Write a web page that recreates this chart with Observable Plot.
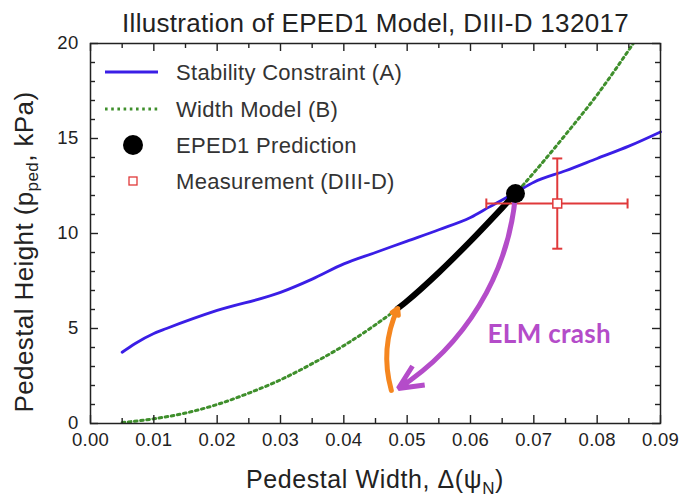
<!DOCTYPE html>
<html>
<head>
<meta charset="utf-8">
<script src="https://cdn.jsdelivr.net/npm/d3@7"></script>
<script src="https://cdn.jsdelivr.net/npm/@observablehq/plot@0.6"></script>
<style>
  body { margin: 0; background: #fff; }
  #chart { position: relative; width: 684px; height: 497px; font-family: "Liberation Sans", Arial, Helvetica, sans-serif; }
  #chart svg { display: block; }
  #legend { position: absolute; left: 0; top: 0; pointer-events: none; }
</style>
</head>
<body>
<div id="chart"></div>
<script>
// Stability constraint (A): critical pedestal height vs. pedestal width
const stabilityWidth  = [0.005, 0.007, 0.010, 0.012, 0.020, 0.030, 0.035, 0.040, 0.045, 0.050, 0.055, 0.060, 0.063, 0.0671, 0.070, 0.075, 0.080, 0.085, 0.090];
const stabilityHeight = [3.75, 4.2, 4.74, 5.0, 5.95, 6.9, 7.6, 8.4, 9.0, 9.6, 10.2, 10.84, 11.4, 12.15, 12.7, 13.3, 13.95, 14.6, 15.35];

// Width model (B)
const widthModelWidth  = [0.005, 0.010, 0.015, 0.020, 0.025, 0.030, 0.035, 0.040, 0.045, 0.0485, 0.050, 0.055, 0.060, 0.065, 0.0671, 0.070, 0.075, 0.080, 0.0857];
const widthModelHeight = [0.05, 0.25, 0.55, 1.0, 1.6, 2.3, 3.15, 4.1, 5.2, 6.05, 6.45, 7.95, 9.6, 11.35, 12.1, 13.2, 15.2, 17.3, 20];

// Inter-ELM pedestal build-up along the width model
const buildupWidth  = [0.0485, 0.050, 0.055, 0.060, 0.065, 0.0671];
const buildupHeight = [6.05, 6.45, 7.95, 9.6, 11.35, 12.1];

// EPED1 prediction and DIII-D measurement
const prediction  = [{width: 0.0671, height: 12.1}];
const measurement = [{width: 0.0737, height: 11.58, widthLo: 0.0625, widthHi: 0.0848, heightLo: 9.2, heightHi: 13.95}];

// ELM crash and recovery paths
const crashPath    = [{x1: 0.0671, y1: 12.0, x2: 0.0486, y2: 1.84}];
const recoveryPath = [{x1: 0.0475, y1: 1.74, x2: 0.0485, y2: 6.05}];
const crashLabel   = [{text: "ELM crash", width: 0.0627, height: 4.65}];

// Axis ticks
const xTicks = [0, 0.01, 0.02, 0.03, 0.04, 0.05, 0.06, 0.07, 0.08, 0.09];
const xMinor = [0.005, 0.015, 0.025, 0.035, 0.045, 0.055, 0.065, 0.075, 0.085];
const yTicks = [0, 5, 10, 15, 20];
const yMinor = [1, 2, 3, 4, 6, 7, 8, 9, 11, 12, 13, 14, 16, 17, 18, 19];

const stability  = stabilityWidth.map((w, i) => ({width: w, height: stabilityHeight[i]}));
const widthModel = widthModelWidth.map((w, i) => ({width: w, height: widthModelHeight[i]}));
const buildup    = buildupWidth.map((w, i) => ({width: w, height: buildupHeight[i]}));

const ink = "#222";
const blue = "#3a1ee6";
const green = "#3f8f2c";
const red = "#e0393a";
const magenta = "#b44cc9";
const orange = "#f5861f";

const W = 684, H = 497, mL = 90, mR = 24, mT = 43, mB = 74;
const frameW = W - mL - mR, frameH = H - mT - mB;
const majorLen = 8, minorLen = 5;

// short line used as an error-bar cap
const capV = {draw(ctx, size) { const h = Math.sqrt(size / Math.PI); ctx.moveTo(0, -h); ctx.lineTo(0, h); }};
const capH = {draw(ctx, size) { const h = Math.sqrt(size / Math.PI); ctx.moveTo(-h, 0); ctx.lineTo(h, 0); }};

// inward ticks on all four sides of the frame
const tickStyle = {stroke: ink, strokeWidth: 1.4};
const tickMarks = [
  Plot.tickX(xTicks, {x: d => d, insetTop: frameH - majorLen, ...tickStyle}),
  Plot.tickX(xTicks, {x: d => d, insetBottom: frameH - majorLen, ...tickStyle}),
  Plot.tickX(xMinor, {x: d => d, insetTop: frameH - minorLen, ...tickStyle}),
  Plot.tickX(xMinor, {x: d => d, insetBottom: frameH - minorLen, ...tickStyle}),
  Plot.tickY(yTicks, {y: d => d, insetRight: frameW - majorLen, ...tickStyle}),
  Plot.tickY(yTicks, {y: d => d, insetLeft: frameW - majorLen, ...tickStyle}),
  Plot.tickY(yMinor, {y: d => d, insetRight: frameW - minorLen, ...tickStyle}),
  Plot.tickY(yMinor, {y: d => d, insetLeft: frameW - minorLen, ...tickStyle})
];

const chart = Plot.plot({
  width: W,
  height: H,
  marginLeft: mL,
  marginRight: mR,
  marginTop: mT,
  marginBottom: mB,
  style: {fontFamily: '"Liberation Sans", Arial, Helvetica, sans-serif', fontSize: "18.5px", color: ink, background: "#fff"},
  x: {domain: [0, 0.09]},
  y: {domain: [0, 20]},
  marks: [
    Plot.line(widthModel, {x: "width", y: "height", stroke: green, strokeWidth: 3, strokeDasharray: "2.6,3.6", curve: "monotone-x", clip: true}),
    Plot.line(stability, {x: "width", y: "height", stroke: blue, strokeWidth: 2.8, curve: "monotone-x"}),
    Plot.line(buildup, {x: "width", y: "height", stroke: "#000", strokeWidth: 6, curve: "monotone-x"}),
    Plot.ruleY(measurement, {y: "height", x1: "widthLo", x2: "widthHi", stroke: red, strokeWidth: 2}),
    Plot.ruleX(measurement, {x: "width", y1: "heightLo", y2: "heightHi", stroke: red, strokeWidth: 2}),
    Plot.dot(measurement, {x: "widthLo", y: "height", symbol: capV, r: 5, stroke: red, strokeWidth: 2}),
    Plot.dot(measurement, {x: "widthHi", y: "height", symbol: capV, r: 5, stroke: red, strokeWidth: 2}),
    Plot.dot(measurement, {x: "width", y: "heightLo", symbol: capH, r: 5, stroke: red, strokeWidth: 2}),
    Plot.dot(measurement, {x: "width", y: "heightHi", symbol: capH, r: 5, stroke: red, strokeWidth: 2}),
    Plot.dot(measurement, {x: "width", y: "height", symbol: "square", r: 5, fill: "#fff", stroke: red, strokeWidth: 1.5}),
    Plot.arrow(crashPath, {x1: "x1", y1: "y1", x2: "x2", y2: "y2", bend: 26, stroke: magenta, strokeWidth: 5, headLength: 8, headAngle: 50, strokeLinecap: "butt"}),
    Plot.arrow(recoveryPath, {x1: "x1", y1: "y1", x2: "x2", y2: "y2", bend: 20, stroke: orange, strokeWidth: 5, headLength: 2, headAngle: 60}),
    Plot.dot(prediction, {x: "width", y: "height", r: 9.5, fill: "#000"}),
    Plot.text(crashLabel, {x: "width", y: "height", text: "text", textAnchor: "start", fill: magenta, fontSize: 26, fontWeight: "bold", fontFamily: "Lato, 'Open Sans', sans-serif"}),
    Plot.text(["Illustration of EPED1 Model, DIII-D 132017"], {frameAnchor: "top", dy: -30, fontSize: 26, fill: ink}),
    Plot.frame({stroke: ink, strokeWidth: 1.5}),
    Plot.axisX(xTicks, {anchor: "bottom", tickSize: 0, tickPadding: 9, tickFormat: d3.format(".2f"), label: null, fill: ink}),
    Plot.axisY(yTicks, {anchor: "left", tickSize: 0, tickPadding: 12, label: null, fill: ink}),
    ...tickMarks
  ]
});

document.getElementById("chart").appendChild(chart);

// Letter spacing for the title and tick labels
const svg = d3.select(chart);
svg.selectAll("text").attr("letter-spacing", "0.3");

// Axis titles with subscripts
const xTitle = svg.append("text")
  .attr("x", 375).attr("y", 488)
  .attr("text-anchor", "middle")
  .attr("font-size", 25).attr("letter-spacing", "0.6").attr("fill", ink);
xTitle.append("tspan").text("Pedestal Width, Δ(ψ");
xTitle.append("tspan").attr("font-size", 17).attr("dy", 6).text("N");
xTitle.append("tspan").attr("dy", -6).text(")");

const yTitle = svg.append("text")
  .attr("transform", "translate(33,252) rotate(-90)")
  .attr("text-anchor", "middle")
  .attr("font-size", 26).attr("letter-spacing", "0.4").attr("fill", ink);
yTitle.append("tspan").text("Pedestal Height (p");
yTitle.append("tspan").attr("font-size", 17).attr("dy", 5).text("ped");
yTitle.append("tspan").attr("dy", -5).text(", kPa)");

// Legend
const legendItems = [
  {label: "Stability Constraint (A)", kind: "line"},
  {label: "Width Model (B)", kind: "dotted"},
  {label: "EPED1 Prediction", kind: "dot"},
  {label: "Measurement (DIII-D)", kind: "square"}
];
const legend = d3.select("#chart").append("svg")
  .attr("id", "legend").attr("width", W).attr("height", H);
const rowY = [72, 109, 145, 181];
legendItems.forEach((item, i) => {
  const g = legend.append("g").attr("transform", `translate(0,${rowY[i]})`);
  if (item.kind === "line") {
    g.append("line").attr("x1", 105).attr("x2", 158).attr("stroke", blue).attr("stroke-width", 3);
  } else if (item.kind === "dotted") {
    g.append("line").attr("x1", 105).attr("x2", 158).attr("stroke", green).attr("stroke-width", 3).attr("stroke-dasharray", "2.6,3.6");
  } else if (item.kind === "dot") {
    g.append("circle").attr("cx", 133).attr("r", 10).attr("fill", "#000");
  } else {
    g.append("rect").attr("x", 129).attr("y", -4).attr("width", 8).attr("height", 8).attr("fill", "#fff").attr("stroke", red).attr("stroke-width", 1.3);
  }
  g.append("text").attr("x", 176).attr("dy", "0.36em")
    .attr("font-size", 22).attr("letter-spacing", "0.3").attr("fill", "#333")
    .text(item.label);
});
</script>
</body>
</html>
